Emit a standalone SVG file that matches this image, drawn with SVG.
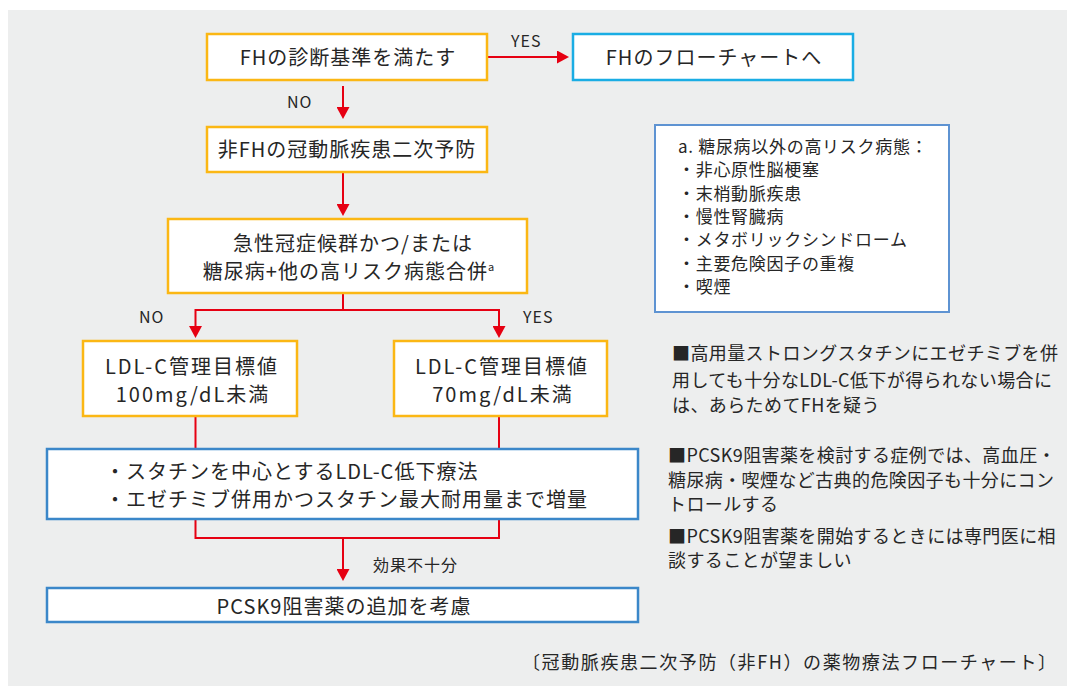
<svg xmlns="http://www.w3.org/2000/svg" width="1067" height="691" viewBox="0 0 1067 691">
<style>
text{font-family:"Noto Sans CJK JP","Noto Sans",sans-serif;fill:#262626}
.t20{font-size:20px;letter-spacing:1px}
.ldl{font-size:20px;letter-spacing:2px}
.lbl{font-size:16px;letter-spacing:1px}
.note{font-size:17px;letter-spacing:0.7px}
.side{font-size:18px;letter-spacing:0.4px}
.cap{font-size:18px;letter-spacing:1.6px}
.mid{text-anchor:middle}
.orange{fill:#fff;stroke:#FBB714;stroke-width:2.5}
.cyan{fill:#fff;stroke:#1AADE4;stroke-width:2.5}
.blue{fill:#fff;stroke:#3B87C9;stroke-width:2.5}
.nbox{fill:#fff;stroke:#5E93D2;stroke-width:2}
.con{fill:none;stroke:#E60012;stroke-width:2}
.arr{marker-end:url(#ah)}
</style>
<defs>
<marker id="ah" markerUnits="userSpaceOnUse" viewBox="0 0 12 13" markerWidth="12" markerHeight="13" refX="1" refY="6.5" orient="auto">
<path d="M0,0 L12,6.5 L0,13 z" fill="#E60012"/>
</marker>
</defs>
<rect x="8" y="10" width="1059" height="676" fill="#EDEEEE"/>

<g id="connectors">
<path class="con arr" d="M487,57 H558"/>
<path class="con arr" d="M343,86 V108"/>
<path class="con arr" d="M343,172 V205"/>
<path class="con" d="M343,293 V310"/>
<path class="con arr" d="M343,310 H195.5 V327"/>
<path class="con arr" d="M343,310 H499 V327"/>
<path class="con" d="M195.5,416 V449"/>
<path class="con" d="M499,416 V449"/>
<path class="con" d="M195.5,519 V538 H499 V519"/>
<path class="con arr" d="M343,538 V570"/>
<text class="lbl" x="511" y="47">YES</text>
<text class="lbl" x="287" y="108">NO</text>
<text class="lbl" x="139" y="323">NO</text>
<text class="lbl" x="523" y="323">YES</text>
<text class="lbl" x="373" y="571">効果不十分</text>
</g>

<g id="fh-criteria">
<rect class="orange" x="207" y="34" width="280" height="46"/>
<text class="t20 mid" x="348" y="64.5">FHの診断基準を満たす</text>
</g>

<g id="fh-flow">
<rect class="cyan" x="573" y="34" width="280" height="46"/>
<text class="t20 mid" x="714" y="64.5">FHのフローチャートへ</text>
</g>

<g id="non-fh">
<rect class="orange" x="207" y="127" width="280" height="45"/>
<text class="t20 mid" x="347" y="157">非FHの冠動脈疾患二次予防</text>
</g>

<g id="acs">
<rect class="orange" x="168" y="219" width="359" height="74"/>
<text class="t20 mid" x="353" y="251">急性冠症候群かつ/または</text>
<text class="t20 mid" x="349" y="279">糖尿病+他の高リスク病態合併<tspan font-size="11" dy="-8">a</tspan></text>
</g>

<g id="ldl-100">
<rect class="orange" x="83" y="341" width="214" height="75"/>
<text class="ldl mid" x="192" y="374">LDL-C管理目標値</text>
<text class="ldl mid" x="193" y="401.5">100mg/dL未満</text>
</g>

<g id="ldl-70">
<rect class="orange" x="394" y="341" width="213" height="75"/>
<text class="ldl mid" x="502" y="374">LDL-C管理目標値</text>
<text class="ldl mid" x="503" y="401.5">70mg/dL未満</text>
</g>

<g id="statin">
<rect class="blue" x="47" y="449" width="591" height="70"/>
<text class="t20" x="105" y="479">・スタチンを中心とするLDL-C低下療法</text>
<text class="t20" x="105" y="507">・エゼチミブ併用かつスタチン最大耐用量まで増量</text>
</g>

<g id="pcsk9">
<rect class="blue" x="47" y="588" width="591" height="34"/>
<text class="t20 mid" x="344" y="614">PCSK9阻害薬の追加を考慮</text>
</g>

<g id="note-a">
<rect class="nbox" x="655" y="125" width="294" height="187"/>
<text class="note" x="678" y="153">a. 糖尿病以外の高リスク病態：</text>
<text class="note" x="678" y="176.3">・非心原性脳梗塞</text>
<text class="note" x="678" y="199.6">・末梢動脈疾患</text>
<text class="note" x="678" y="222.9">・慢性腎臓病</text>
<text class="note" x="678" y="246.2">・メタボリックシンドローム</text>
<text class="note" x="678" y="269.5">・主要危険因子の重複</text>
<text class="note" x="678" y="292.8">・喫煙</text>
</g>

<g id="side-notes">
<text class="side" x="672" y="360">■高用量ストロングスタチンにエゼチミブを併</text>
<text class="side" x="672" y="387">用しても十分なLDL-C低下が得られない場合に</text>
<text class="side" x="672" y="412">は、あらためてFHを疑う</text>
<text class="side" x="668" y="462">■PCSK9阻害薬を検討する症例では、高血圧・</text>
<text class="side" x="668" y="487">糖尿病・喫煙など古典的危険因子も十分にコン</text>
<text class="side" x="668" y="511">トロールする</text>
<text class="side" x="668" y="543">■PCSK9阻害薬を開始するときには専門医に相</text>
<text class="side" x="668" y="567">談することが望ましい</text>
</g>

<g id="caption">
<text class="cap" x="522" y="669">〔冠動脈疾患二次予防（非FH）の薬物療法フローチャート〕</text>
</g>
</svg>
